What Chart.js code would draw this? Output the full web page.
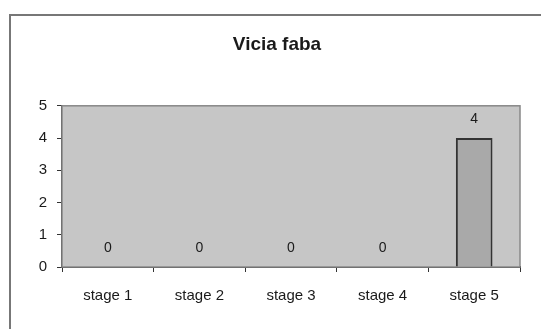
<!DOCTYPE html>
<html>
<head>
<meta charset="utf-8">
<script src="https://cdn.jsdelivr.net/npm/chart.js@4/dist/chart.umd.min.js"></script>
<style>
  html, body { margin: 0; padding: 0; background: #fff; }
  #marco {
    position: absolute; left: 9px; top: 14px; width: 540px; height: 330px;
    border-left: 2px solid #777; border-top: 2px solid #777;
  }
  #caja { position: absolute; left: 0; top: 0; width: 541px; height: 329px; }
</style>
</head>
<body>
<div id="marco"></div>
<div id="caja"><canvas id="grafico" width="541" height="329"></canvas></div>
<script>
// datos
const etapas = ['stage 1', 'stage 2', 'stage 3', 'stage 4', 'stage 5'];
const valores = [0, 0, 0, 0, 4];
const marcasY = [0, 1, 2, 3, 4, 5];

const fuente = "'Liberation Sans', Arial, sans-serif";

// fondo gris del area de trazado
const fondoArea = {
  id: 'fondoArea',
  beforeDatasetsDraw(chart) {
    const { ctx, chartArea: a } = chart;
    ctx.save();
    ctx.fillStyle = '#c6c6c6';
    ctx.fillRect(a.left, a.top, a.right - a.left, a.bottom - a.top);
    ctx.strokeStyle = '#888';
    ctx.lineWidth = 1.5;
    ctx.strokeRect(a.left, a.top, a.right - a.left, a.bottom - a.top);
    ctx.restore();
  }
};

// etiquetas de valor sobre cada barra
const etiquetas = {
  id: 'etiquetas',
  afterDatasetsDraw(chart) {
    const { ctx } = chart;
    const meta = chart.getDatasetMeta(0);
    ctx.save();
    ctx.font = '14px ' + fuente;
    ctx.fillStyle = '#1a1a1a';
    ctx.textAlign = 'center';
    ctx.textBaseline = 'middle';
    meta.data.forEach((barra, i) => {
      ctx.fillText(String(valores[i]), barra.x, barra.y - 19);
    });
    ctx.restore();
  }
};

new Chart(document.getElementById('grafico').getContext('2d'), {
  type: 'bar',
  data: {
    labels: etapas,
    datasets: [{
      data: valores,
      backgroundColor: '#a9a9a9',
      borderColor: '#333',
      borderWidth: 2,
      borderSkipped: 'bottom',
      barPercentage: 0.4,
      categoryPercentage: 1
    }]
  },
  options: {
    responsive: false,
    animation: false,
    layout: { padding: { left: 34, right: 21, top: 0, bottom: 0 } },
    plugins: {
      legend: { display: false },
      tooltip: { enabled: false },
      title: {
        display: true,
        text: 'Vicia faba',
        color: '#1a1a1a',
        font: { family: fuente, size: 19, weight: 'bold' },
        padding: { top: 33, bottom: 50 }
      }
    },
    scales: {
      x: {
        grid: { drawOnChartArea: false, tickLength: 5, color: '#333' },
        border: { color: '#333', width: 2 },
        ticks: { color: '#1a1a1a', font: { family: fuente, size: 15 }, padding: 15, maxRotation: 0 },
        afterFit(s) { s.height = 62; }
      },
      y: {
        min: 0,
        max: 5,
        grid: { drawOnChartArea: false, tickLength: 5, color: '#333' },
        border: { color: '#333', width: 2 },
        afterBuildTicks(s) { s.ticks = marcasY.map(v => ({ value: v })); },
        ticks: { color: '#1a1a1a', font: { family: fuente, size: 15 }, padding: 10 },
        afterFit(s) { s.width = 28; }
      }
    }
  },
  plugins: [fondoArea, etiquetas]
});
</script>
</body>
</html>
